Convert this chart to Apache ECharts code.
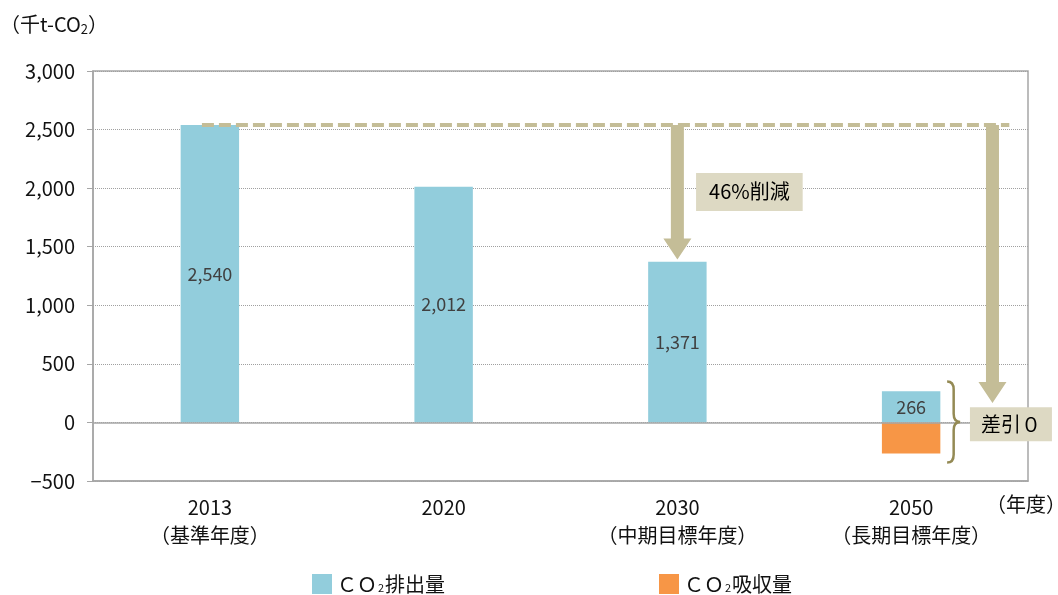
<!DOCTYPE html>
<html>
<head>
<meta charset="utf-8">
<script src="https://cdn.jsdelivr.net/npm/echarts@6/dist/echarts.min.js"></script>
<style>
  html, body { margin: 0; padding: 0; background: #fff; }
  #chart { width: 1058px; height: 595px; }
</style>
</head>
<body>
<div id="chart"></div>
<script>
// 年度 (category labels)
const years = ['2013\n（基準年度）', '2020', '2030\n（中期目標年度）', '2050\n（長期目標年度）']
// 千t-CO2
const emission = [2540, 2012, 1371, 266]
const absorption = [null, null, null, -266]
const yTicks = { min: -500, max: 3000, step: 500 }

// annotations: [category, offset in band, from, to]
const arrowRows = [[2, 0, 2540, 1390], [3, 0.348, 2540, 165]]
// [category, offset in band, value]
const noteRows = [[2, 0.308, 1968], [3, 0.427, -15]]
const noteTexts = ['46%削減', '差引０']
// [startCat, startOffset, endCat, endOffset, value]
const baseRows = [[0, -0.034, 3, 0.42, 2540]]
// [category, leftOffset, rightOffset, top, bottom]
const braceRows = [[3, 0.154, 0.21, 350, -342]]

const FONT = '"Noto Sans CJK JP", "Noto Sans", sans-serif'
const BLUE = '#92cddc'
const ORANGE = '#f79646'
const KHAKI = '#c4bd97'
const INK = '#111'

const chart = echarts.init(document.getElementById('chart'))

const fmt = v => (v < 0 ? '−' : '') + String(Math.abs(v)).replace(/\B(?=(\d{3})+(?!\d))/g, ',')

const legendRich = {
  t: { fontSize: 20, color: INK, fontFamily: FONT },
  s: { fontSize: 11, color: INK, padding: [8, 1, 0, 1] }
}

const option = {
  animation: false,
  textStyle: { fontFamily: FONT },
  grid: {
    left: 93, right: 30, top: 71, bottom: 114,
    show: true, borderColor: '#a6a6a6', borderWidth: 1.5
  },
  legend: [
    {
      data: ['CO2排出量'], left: 307, top: 569,
      icon: 'rect', itemWidth: 20, itemHeight: 20,
      formatter: () => '{t|ＣＯ}{s|2}{t|排出量}',
      textStyle: { rich: legendRich }
    },
    {
      data: ['CO2吸収量'], left: 654, top: 569,
      icon: 'rect', itemWidth: 20, itemHeight: 20,
      formatter: () => '{t|ＣＯ}{s|2}{t|吸収量}',
      textStyle: { rich: legendRich }
    }
  ],
  graphic: [
    {
      type: 'text', left: 0, top: 14,
      style: {
        text: '{a|（千t-CO}{s|2}{a|）}',
        rich: {
          a: { fontSize: 20, fill: INK, fontFamily: FONT },
          s: { fontSize: 13, fill: INK, padding: [10, 0, 0, 0], fontFamily: FONT }
        }
      }
    },
    {
      type: 'text', left: 986, top: 494,
      style: { text: '（年度）', fontSize: 20, fill: INK, fontFamily: FONT }
    }
  ],
  xAxis: {
    type: 'category',
    data: years,
    axisLine: { onZero: false, lineStyle: { color: '#a6a6a6', width: 1.5 } },
    axisTick: { show: false },
    axisLabel: { color: INK, fontSize: 20, lineHeight: 28, margin: 12, fontFamily: FONT }
  },
  yAxis: {
    type: 'value',
    min: yTicks.min, max: yTicks.max, interval: yTicks.step,
    axisLine: { show: true, lineStyle: { color: '#a6a6a6', width: 1.5 } },
    axisTick: { show: true, length: 6, lineStyle: { color: '#a6a6a6' } },
    axisLabel: { color: INK, fontSize: 20, margin: 18, formatter: fmt, fontFamily: FONT },
    splitLine: { lineStyle: { color: '#a0a0a0', type: 'dotted', width: 1 } }
  },
  series: [
    {
      name: 'CO2排出量',
      type: 'bar',
      stack: 'total',
      barWidth: '25%',
      itemStyle: { color: BLUE },
      label: { show: true, position: 'inside', color: '#404040', fontSize: 18, formatter: p => fmt(p.value), fontFamily: FONT },
      data: emission,
      markLine: {
        silent: true, symbol: 'none',
        label: { show: false },
        lineStyle: { color: '#a6a6a6', type: 'solid', width: 1.5 },
        data: [{ yAxis: 0 }]
      }
    },
    {
      name: 'CO2吸収量',
      type: 'bar',
      stack: 'total',
      barWidth: '25%',
      itemStyle: { color: ORANGE },
      data: absorption
    },
    {
      type: 'custom',
      z: 5,
      silent: true,
      data: baseRows,
      renderItem: (params, api) => {
        const band = api.size([1, 0])[0]
        const p0 = api.coord([api.value(0), api.value(4)])
        const p1 = api.coord([api.value(2), api.value(4)])
        return {
          type: 'line',
          shape: { x1: p0[0] + api.value(1) * band, y1: p0[1], x2: p1[0] + api.value(3) * band, y2: p1[1] },
          style: { stroke: KHAKI, lineWidth: 4, lineDash: [12, 5] }
        }
      }
    },
    {
      type: 'custom',
      z: 6,
      silent: true,
      data: arrowRows,
      renderItem: (params, api) => {
        const band = api.size([1, 0])[0]
        const top = api.coord([api.value(0), api.value(2)])
        const tip = api.coord([api.value(0), api.value(3)])
        const x = top[0] + api.value(1) * band
        const y0 = top[1]
        const y1 = tip[1]
        const hw = 6.5, HW = 14, hh = 21
        return {
          type: 'polygon',
          shape: {
            points: [[x - hw, y0], [x + hw, y0], [x + hw, y1 - hh], [x + HW, y1 - hh], [x, y1], [x - HW, y1 - hh], [x - hw, y1 - hh]]
          },
          style: { fill: KHAKI }
        }
      }
    },
    {
      type: 'custom',
      z: 7,
      silent: true,
      data: noteRows,
      renderItem: (params, api) => {
        const band = api.size([1, 0])[0]
        const c = api.coord([api.value(0), api.value(2)])
        const big = params.dataIndex === 0
        return {
          type: 'text',
          x: c[0] + api.value(1) * band,
          y: c[1],
          style: {
            text: noteTexts[params.dataIndex],
            align: 'center', verticalAlign: 'middle',
            fill: '#000', fontSize: 20, fontFamily: FONT,
            backgroundColor: '#ddd9c3',
            padding: big ? [9, 13, 9, 13] : [7, 11, 7, 11]
          }
        }
      }
    },
    {
      type: 'custom',
      z: 6,
      silent: true,
      data: braceRows,
      renderItem: (params, api) => {
        const band = api.size([1, 0])[0]
        const t = api.coord([api.value(0), api.value(3)])
        const b = api.coord([api.value(0), api.value(4)])
        const x0 = t[0] + api.value(1) * band
        const x1 = t[0] + api.value(2) * band
        return {
          type: 'path',
          shape: {
            pathData: 'M0 0 Q0.5 0 0.5 0.1 L0.5 0.4 Q0.5 0.5 1 0.5 Q0.5 0.5 0.5 0.6 L0.5 0.9 Q0.5 1 0 1',
            x: x0, y: t[1], width: x1 - x0, height: b[1] - t[1],
            layout: 'cover'
          },
          style: { stroke: '#948a54', lineWidth: 2.5, fill: null }
        }
      }
    }
  ]
}

chart.setOption(option)
</script>
</body>
</html>
